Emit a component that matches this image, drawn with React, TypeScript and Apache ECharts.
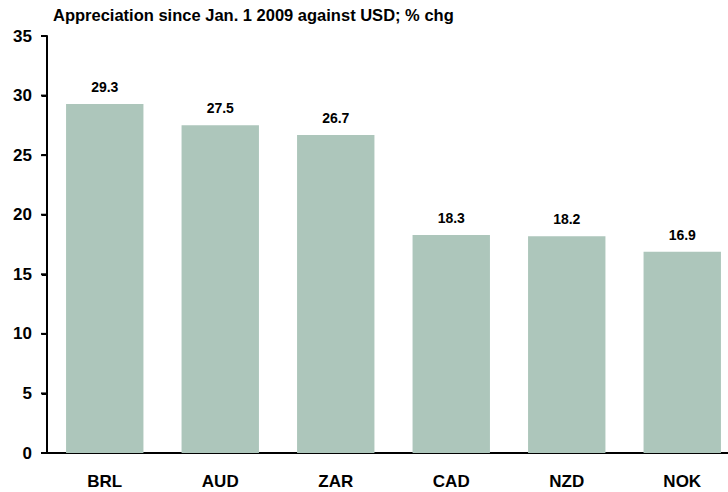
import React, { useEffect, useRef } from "react";
import * as echarts from "echarts";

const categories = ["BRL", "AUD", "ZAR", "CAD", "NZD", "NOK"];
const values = [29.3, 27.5, 26.7, 18.3, 18.2, 16.9];
const titleText = "Appreciation since Jan. 1 2009 against USD; % chg";
const yMin = 0;
const yMax = 35;
const yInterval = 5;

export default function App() {
  const ref = useRef<HTMLDivElement>(null);
  useEffect(() => {
    if (!ref.current) return;
    const chart = echarts.init(ref.current, null, { renderer: "svg" });
    const font = "Liberation Sans, Arial, sans-serif";
    const ticks: number[] = [];
    for (let v = yMin; v <= yMax; v += yInterval) ticks.push(v);

    chart.setOption({
      animation: false,
      backgroundColor: "#ffffff",
      title: {
        text: titleText,
        left: 53,
        top: 6,
        padding: 0,
        textStyle: { fontFamily: font, fontSize: 16.5, fontWeight: "bold", color: "#000" },
      },
      grid: {
        left: 47,
        right: -12,
        top: 36,
        bottom: 39,
        containLabel: false,
        outerBoundsMode: "none",
      },
      xAxis: {
        type: "category",
        data: categories,
        axisLine: { show: true, lineStyle: { color: "#000", width: 2 } },
        axisTick: { show: false },
        axisLabel: { fontFamily: font, fontSize: 17, fontWeight: "bold", color: "#000", margin: 20 },
      },
      yAxis: {
        type: "value",
        position: "left",
        min: yMin,
        max: yMax,
        interval: yInterval,
        splitLine: { show: false },
        axisLine: { show: true, onZero: false, lineStyle: { color: "#000", width: 2 } },
        axisTick: { show: true, inside: false, length: 5, lineStyle: { color: "#000", width: 2 } },
        axisLabel: { fontFamily: font, fontSize: 17, fontWeight: "bold", color: "#000", margin: 15 },
      },
      series: [
        {
          type: "bar",
          data: values,
          barCategoryGap: "33%",
          itemStyle: { color: "#adc6bb" },
          label: {
            show: true,
            position: "top",
            distance: 10,
            fontFamily: font,
            fontSize: 14,
            fontWeight: "bold",
            color: "#000",
            formatter: (p: any) => p.value.toFixed(1),
          },
        },
        {
          type: "custom",
          silent: true,
          clip: false,
          z: 10,
          data: [[0, yMin]],
          renderItem: (_params: any, api: any) => {
            const band = api.size([1, 0])[0];
            const x = api.coord([0, yMin])[0] - band / 2;
            const yBottom = api.coord([0, yMin])[1];
            const yTop = api.coord([0, yMax])[1];
            const style = { stroke: "#000", lineWidth: 2 };
            const children: any[] = [
              { type: "line", shape: { x1: x, y1: yTop, x2: x, y2: yBottom + 1 }, style },
            ];
            ticks.forEach((v) => {
              const y = api.coord([0, v])[1];
              children.push({ type: "line", shape: { x1: x - 6, y1: y, x2: x, y2: y }, style });
            });
            return { type: "group", children };
          },
        },
      ],
    });

    return () => chart.dispose();
  }, []);
  return (
    <div
      ref={ref}
      style={{ position: "fixed", left: 0, top: 0, width: 728, height: 492 }}
    />
  );
}
